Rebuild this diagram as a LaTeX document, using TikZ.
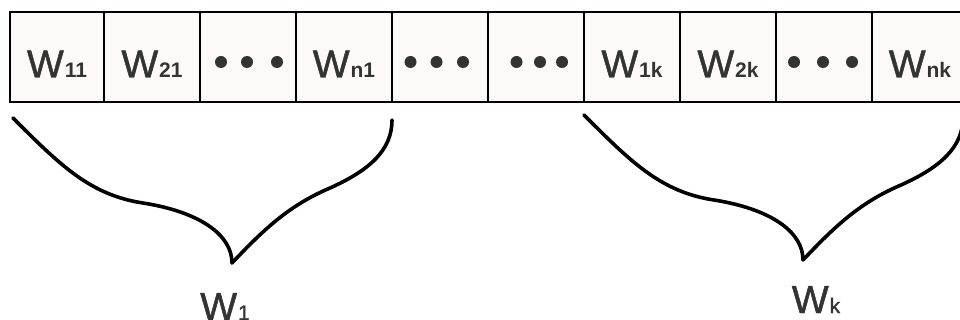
\documentclass[tikz,border=0pt]{standalone}
\usepackage{fontspec}
\setmainfont{Liberation Sans}
\newfontfamily\wfont{Liberation Sans}[FakeBold=1.2]
\definecolor{ink}{HTML}{333333}
\definecolor{cellfill}{HTML}{FDF9F8}
% weight symbol with a small subscript sitting on the baseline
\newcommand\wsym[1]{{\wfont\fontsize{39}{39}\selectfont W}\kern1pt{\fontsize{21}{21}\selectfont\bfseries #1}}
\newcommand\wsymlight[1]{{\wfont\fontsize{39}{39}\selectfont W}\kern1pt{\wfont\fontsize{21}{21}\selectfont #1}}
\tikzset{
  cell/.style={draw=black, line width=2.8pt, fill=cellfill, minimum height=90pt, minimum width=96pt, inner sep=0pt},
  lab/.style={text=ink, anchor=base, inner sep=0pt},
  brace/.style={line width=3.6pt, line cap=round, line join=round},
}
\begin{document}
\begin{tikzpicture}[x=1pt,y=-1pt]
\useasboundingbox (0,0) rectangle (960,320);
\clip (0,0) rectangle (960,320);

% the vector cells
\node[cell, minimum width=94pt] (c1) at (57,57) {};
\node[cell] (c2) at (152,57) {};
\node[cell] (c3) at (248,57) {};
\node[cell] (c4) at (344,57) {};
\node[cell] (c5) at (440,57) {};
\node[cell] (c6) at (536,57) {};
\node[cell] (c7) at (632,57) {};
\node[cell] (c8) at (728,57) {};
\node[cell] (c9) at (824,57) {};
\node[cell] (c10) at (920,57) {};

% cell labels
\node[lab] (t1) at (57,77.5) {\wsym{11}};
\node[lab] (t2) at (152,77.5) {\wsym{21}};
\node[lab] (t4) at (344,77.5) {\wsym{n1}};
\node[lab] (t7) at (632,77.5) {\wsym{1k}};
\node[lab] (t8) at (728,77.5) {\wsym{2k}};
\node[lab] (t10) at (920,77.5) {\wsym{nk}};

% ellipsis dots
\foreach \x in {221,247,277} \fill[ink] (\x,62) circle (6pt);
\foreach \x in {410.5,436.5,463} \fill[ink] (\x,62) circle (6pt);
\foreach \x in {516.5,540,562} \fill[ink] (\x,62) circle (6pt);
\foreach \x in {794,823,852} \fill[ink] (\x,62) circle (6pt);

% left brace
\coordinate (b1a) at (13,118);
\coordinate (b1t) at (232,263);
\coordinate (b1b) at (392,120);
\draw[brace] (b1a) .. controls (60,165) and (90,195) .. (143,203)
  .. controls (200,212) and (232,235) .. (b1t)
  .. controls (265,228) and (290,205) .. (330,188)
  .. controls (370,170) and (392,150) .. (b1b);

% right brace, same shape
\begin{scope}[shift={(571,-3)}]
\coordinate (b2a) at (13,118);
\coordinate (b2t) at (232,263);
\coordinate (b2b) at (392,120);
\draw[brace] (b2a) .. controls (60,165) and (90,195) .. (143,203)
  .. controls (200,212) and (232,235) .. (b2t)
  .. controls (265,228) and (290,205) .. (330,188)
  .. controls (370,170) and (392,150) .. (b2b);
\end{scope}

% group labels
\node[lab] (g1) at (225,320) {\wsymlight{1}};
\node[lab] (gk) at (816,313) {\wsymlight{k}};
\end{tikzpicture}
\end{document}
